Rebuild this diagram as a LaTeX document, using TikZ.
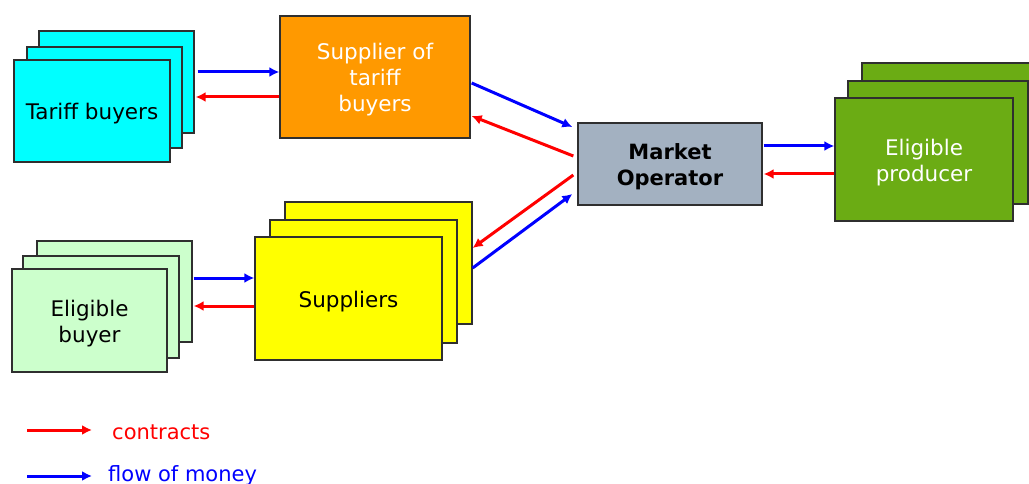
\documentclass[tikz,border=0pt]{standalone}
\usepackage{fontspec}
\setmainfont{DejaVu Sans}
\usetikzlibrary{arrows.meta}

\definecolor{tariffcyan}{HTML}{00FFFF}
\definecolor{supporange}{HTML}{FF9900}
\definecolor{mogrey}{HTML}{A3B1C1}
\definecolor{prodgreen}{HTML}{6BAC14}
\definecolor{buyergreen}{HTML}{CCFFCC}
\definecolor{suppyellow}{HTML}{FFFF00}
\definecolor{edgegrey}{HTML}{2F2F2F}
\definecolor{contractred}{HTML}{FF0000}
\definecolor{moneyblue}{HTML}{0000FF}

% box caption, set a little below the geometric centre
\newcommand{\boxcaption}[1]{\raisebox{-3.5pt}[\height][\depth]{\begin{tabular}{@{}c@{}}#1\end{tabular}}}

\tikzset{
  box/.style={draw=edgegrey, line width=1.3pt, inner sep=0pt,
    font=\fontsize{21.5}{26}\selectfont},
  contract/.style={draw=contractred, line width=3pt,
    -{Latex[length=10pt,width=10pt]}},
  money/.style={draw=moneyblue, line width=3pt,
    -{Latex[length=10pt,width=10pt]}},
  legendtext/.style={anchor=base west, inner sep=0pt,
    font=\fontsize{21}{26}\selectfont},
}

\begin{document}
\begin{tikzpicture}[x=1pt, y=-1pt]
\useasboundingbox (0,0) rectangle (1029,484);
\clip (0,0) rectangle (1029,484);

% Tariff buyers (stack of three)
\node[box, fill=tariffcyan, minimum width=155pt, minimum height=102pt] (tb3) at (116.5,82) {};
\node[box, fill=tariffcyan, minimum width=155pt, minimum height=101pt] (tb2) at (104.5,97.5) {};
\node[box, fill=tariffcyan, minimum width=156pt, minimum height=102pt] (tb1) at (92,111) {\boxcaption{Tariff buyers}};

% Supplier of tariff buyers
\node[box, fill=supporange, text=white, minimum width=190pt, minimum height=122pt] (sup) at (375,77)
  {\boxcaption{Supplier of\\tariff\\buyers}};

% Market operator
\node[box, fill=mogrey, minimum width=184pt, minimum height=82pt, font=\fontsize{21}{26}\selectfont\bfseries] (mo) at (670,164)
  {\boxcaption{Market\\Operator}};

% Eligible producer (stack of three)
\node[box, fill=prodgreen, minimum width=180pt, minimum height=123pt] (ep3) at (952,124.5) {};
\node[box, fill=prodgreen, minimum width=180pt, minimum height=123pt] (ep2) at (938,142.5) {};
\node[box, fill=prodgreen, text=white, minimum width=178pt, minimum height=123pt] (ep1) at (924,159.5)
  {\boxcaption{Eligible\\producer}};

% Eligible buyer (stack of three)
\node[box, fill=buyergreen, minimum width=155pt, minimum height=101pt] (eb3) at (114.5,291.5) {};
\node[box, fill=buyergreen, minimum width=156pt, minimum height=102pt] (eb2) at (101,307) {};
\node[box, fill=buyergreen, minimum width=155pt, minimum height=103pt] (eb1) at (89.5,320.5)
  {\boxcaption{Eligible\\buyer}};

% Suppliers (stack of three)
\node[box, fill=suppyellow, minimum width=187pt, minimum height=122pt] (sp3) at (378.5,263) {};
\node[box, fill=suppyellow, minimum width=187pt, minimum height=123pt] (sp2) at (363.5,281.5) {};
\node[box, fill=suppyellow, minimum width=187pt, minimum height=123pt] (sp1) at (348.5,298.5) {\boxcaption{Suppliers}};

% Tariff buyers <-> supplier of tariff buyers
\draw[money] ([xshift=3pt,yshift=10pt]tb3.east) -- ([yshift=5pt]sup.west);
\draw[contract] ([yshift=-20pt]sup.west) -- ([xshift=1pt,yshift=-15pt]tb3.east);

% Supplier of tariff buyers <-> market operator
\draw[money] ([xshift=1pt,yshift=-6pt]sup.east) -- ([xshift=-5pt,yshift=37pt]mo.west);
\draw[contract] ([xshift=-4pt,yshift=8pt]mo.west) -- ([xshift=1pt,yshift=-39pt]sup.east);

% Suppliers <-> market operator
\draw[contract] ([xshift=-4pt,yshift=-11pt]mo.west) -- ([yshift=15pt]sp3.east);
\draw[money] ([yshift=-5pt]sp3.east) -- ([xshift=-5pt,yshift=-30pt]mo.west);

% Market operator <-> eligible producer
\draw[money] ([xshift=1pt,yshift=18pt]mo.east) -- ([yshift=13.5pt]ep1.west);
\draw[contract] ([yshift=-14.5pt]ep1.west) -- ([xshift=1pt,yshift=-10pt]mo.east);

% Eligible buyer <-> suppliers
\draw[money] ([xshift=1pt,yshift=13.5pt]eb3.east) -- ([yshift=20.5pt]sp1.west);
\draw[contract] ([yshift=-7.5pt]sp1.west) -- ([xshift=1pt,yshift=-14.5pt]eb3.east);

% Legend
\coordinate (lca) at (27,430);
\coordinate (lcb) at (92,430);
\coordinate (lma) at (27,476);
\coordinate (lmb) at (92,476);
\draw[contract] (lca) -- (lcb);
\draw[money] (lma) -- (lmb);
\node[legendtext, text=contractred] (lct) at (112,439) {contracts};
\node[legendtext, text=moneyblue] (lmt) at (108,481) {flow of money};
\end{tikzpicture}
\end{document}
